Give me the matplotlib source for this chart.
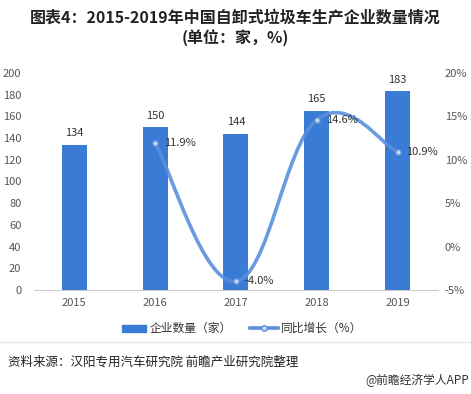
import matplotlib.pyplot as plt
import numpy as np
from matplotlib.path import Path
from matplotlib.patches import PathPatch, Rectangle
from matplotlib.lines import Line2D

plt.rcParams['font.family'] = ['Noto Sans CJK SC', 'DejaVu Sans']

years = ['2015', '2016', '2017', '2018', '2019']
companies = [134, 150, 144, 165, 183]
growth_years = [1, 2, 3, 4]          # index into years
growth = [11.9, -4.0, 14.6, 10.9]

bar_color = '#3a7bd5'
line_color = '#5a8fdc'
text_color = '#333333'
tick_color = '#555555'

fig = plt.figure(figsize=(4.71, 3.94), dpi=100)
ax = fig.add_axes([0.072, 0.264, 0.858, 0.551])
ax2 = ax.twinx()

x = np.arange(len(years))
ax.bar(x, companies, width=0.31, color=bar_color, zorder=2)
for xi, v in zip(x, companies):
    ax.text(xi, v + 6, str(v), ha='center', va='bottom', fontsize=8, color=text_color)

ax.set_xlim(-0.5, len(years) - 0.5)
ax.set_ylim(0, 200)
ax.set_yticks(range(0, 201, 20))
ax.set_xticks(x)
ax.set_xticklabels(years)
ax.tick_params(axis='both', length=0, labelsize=8, colors=tick_color)
ax.tick_params(axis='x', pad=6)
ax.tick_params(axis='y', pad=9)
for s in ['top', 'right', 'left']:
    ax.spines[s].set_visible(False)
ax.spines['bottom'].set_color('#cccccc')

# smooth line (bezier through the data points)
ax2.set_ylim(-5, 20)
ax2.set_yticks(range(-5, 21, 5))
ax2.set_yticklabels([f'{v}%' for v in range(-5, 21, 5)])
ax2.tick_params(axis='y', length=0, labelsize=8, colors=tick_color, pad=5)
for s in ['top', 'right', 'left', 'bottom']:
    ax2.spines[s].set_visible(False)

px = np.array(growth_years, dtype=float)
py = np.array(growth, dtype=float)
verts = [(px[0], py[0])]
codes = [Path.MOVETO]
k = 0.4
for i in range(len(px) - 1):
    p0 = i - 1 if i > 0 else i
    p3 = i + 2 if i + 2 < len(px) else i + 1
    c1 = (px[i] + (px[i + 1] - px[p0]) * k / 2, py[i] + (py[i + 1] - py[p0]) * k / 2)
    c2 = (px[i + 1] - (px[p3] - px[i]) * k / 2, py[i + 1] - (py[p3] - py[i]) * k / 2)
    verts += [c1, c2, (px[i + 1], py[i + 1])]
    codes += [Path.CURVE4, Path.CURVE4, Path.CURVE4]
ax2.add_patch(PathPatch(Path(verts, codes), facecolor='none', edgecolor=line_color,
                        lw=2.6, alpha=0.9, zorder=3))
ax2.plot(px, py, 'o', ms=4, mfc='#c9d9f2', mec=line_color, mew=1, zorder=4)
for xi, v in zip(px, py):
    ax2.text(xi + 0.11, v, f'{v:.1f}%', ha='left', va='center', fontsize=8, color=text_color, zorder=5)

# title
fig.text(0.5, 0.955, '图表4：2015-2019年中国自卸式垃圾车生产企业数量情况',
         ha='center', va='center', fontsize=11.5, fontweight='bold', color='#222222')
fig.text(0.5, 0.905, '(单位：家，%)', ha='center', va='center', fontsize=11.5,
         fontweight='bold', color='#222222')

# legend
fig.patches.append(Rectangle((122 / 471, 1 - 332 / 394), 24 / 471, 7 / 394,
                             transform=fig.transFigure, color=bar_color))
fig.text(150 / 471, 1 - 328 / 394, '企业数量（家）', ha='left', va='center', fontsize=8.5, color=text_color)
fig.lines.append(Line2D([250 / 471, 278 / 471], [1 - 328 / 394, 1 - 328 / 394],
                        transform=fig.transFigure, color=line_color, lw=2.6))
fig.lines.append(Line2D([264 / 471], [1 - 328 / 394], transform=fig.transFigure,
                        marker='o', ms=4, mfc='#c9d9f2', mec=line_color, lw=0))
fig.text(281 / 471, 1 - 328 / 394, '同比增长（%）', ha='left', va='center', fontsize=8.5, color=text_color)

# frame separator
fig.lines.append(Line2D([0, 1], [1 - 342 / 394, 1 - 342 / 394], transform=fig.transFigure,
                        color='#e6e6e6', lw=1))

fig.text(8 / 471, 1 - 362 / 394, '资料来源：汉阳专用汽车研究院 前瞻产业研究院整理',
         ha='left', va='center', fontsize=9, color='#222222')
fig.text(469 / 471, 1 - 380 / 394, '@前瞻经济学人APP', ha='right', va='center',
         fontsize=8.5, color='#333333')

fig.savefig('out.png', dpi=100)
